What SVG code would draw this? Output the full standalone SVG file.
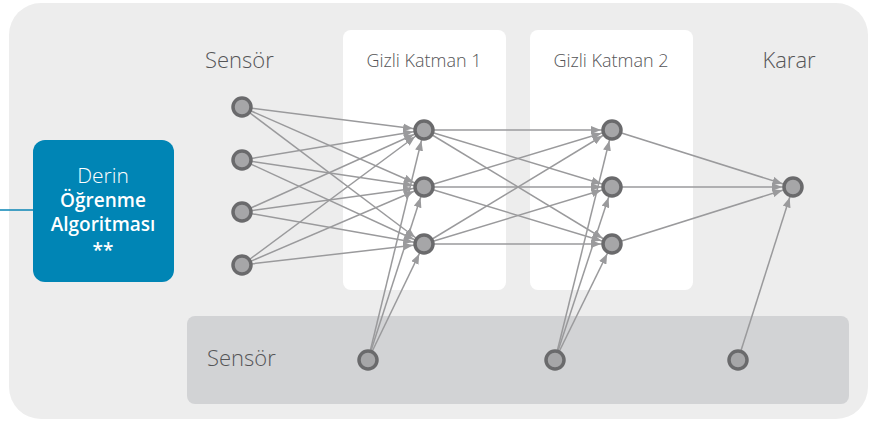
<svg xmlns="http://www.w3.org/2000/svg" width="885" height="423" viewBox="0 0 885 423">
<style>
.lbl{font-family:"Open Sans","Noto Sans",sans-serif;fill:#555557}
.big{font-size:22px;font-weight:300}
.sm{font-size:18px;font-weight:300}
.btxt{font-family:"Open Sans","Noto Sans",sans-serif;fill:#ffffff;text-anchor:middle}
.e{stroke:#9a9a9c;stroke-width:1.5;fill:none;marker-end:url(#ah)}
.n{fill:#a6a6a8;stroke:#6a6a6c;stroke-width:3.5}
</style>
<defs>
<marker id="ah" viewBox="0 0 22 8" markerWidth="22" markerHeight="8" refX="21" refY="4" orient="auto" markerUnits="userSpaceOnUse">
<path d="M0,0 L10,4 L0,8 z" fill="#9a9a9c"/>
</marker>
</defs>
<rect x="0" y="0" width="885" height="423" fill="#ffffff"/>
<rect x="9" y="3" width="859" height="416" rx="32" fill="#ededed"/>
<rect x="343" y="30" width="163" height="260" rx="8" fill="#ffffff"/>
<rect x="530" y="30" width="163" height="260" rx="8" fill="#ffffff"/>
<rect x="187" y="316" width="662" height="88" rx="8" fill="#d2d3d5"/>
<g id="labels">
<text class="lbl big" x="205" y="68">Sensör</text>
<text class="lbl sm" x="424" y="67" text-anchor="middle">Gizli Katman 1</text>
<text class="lbl sm" x="611" y="67" text-anchor="middle">Gizli Katman 2</text>
<text class="lbl big" x="789" y="68" text-anchor="middle">Karar</text>
<text class="lbl big" x="207" y="366">Sensör</text>
</g>
<g id="algo">
<line x1="0" y1="210" x2="34" y2="210" stroke="#0a84b4" stroke-width="1.5"/>
<rect x="33" y="140" width="141" height="142" rx="12" fill="#0085b5"/>
<text class="btxt" x="103" y="183" font-size="21" font-weight="300">Derin</text>
<text class="btxt" x="103" y="207" font-size="19" font-weight="600">Öğrenme</text>
<text class="btxt" x="103" y="231" font-size="19" font-weight="600">Algoritması</text>
<text class="btxt" x="103" y="257" font-size="19" font-weight="600">**</text>
</g>
<g id="connectors">
<line class="e" x1="242" y1="107" x2="424" y2="130"/>
<line class="e" x1="242" y1="107" x2="424" y2="187"/>
<line class="e" x1="242" y1="107" x2="424" y2="244"/>
<line class="e" x1="242" y1="160" x2="424" y2="130"/>
<line class="e" x1="242" y1="160" x2="424" y2="187"/>
<line class="e" x1="242" y1="160" x2="424" y2="244"/>
<line class="e" x1="242" y1="212" x2="424" y2="130"/>
<line class="e" x1="242" y1="212" x2="424" y2="187"/>
<line class="e" x1="242" y1="212" x2="424" y2="244"/>
<line class="e" x1="242" y1="265" x2="424" y2="130"/>
<line class="e" x1="242" y1="265" x2="424" y2="187"/>
<line class="e" x1="242" y1="265" x2="424" y2="244"/>
<line class="e" x1="424" y1="130" x2="612" y2="130"/>
<line class="e" x1="424" y1="130" x2="612" y2="187"/>
<line class="e" x1="424" y1="130" x2="612" y2="244"/>
<line class="e" x1="424" y1="187" x2="612" y2="130"/>
<line class="e" x1="424" y1="187" x2="612" y2="187"/>
<line class="e" x1="424" y1="187" x2="612" y2="244"/>
<line class="e" x1="424" y1="244" x2="612" y2="130"/>
<line class="e" x1="424" y1="244" x2="612" y2="187"/>
<line class="e" x1="424" y1="244" x2="612" y2="244"/>
<line class="e" x1="612" y1="130" x2="793" y2="187"/>
<line class="e" x1="612" y1="187" x2="793" y2="187"/>
<line class="e" x1="612" y1="244" x2="793" y2="187"/>
<line class="e" x1="368" y1="360" x2="424" y2="130"/>
<line class="e" x1="368" y1="360" x2="424" y2="187"/>
<line class="e" x1="368" y1="360" x2="424" y2="244"/>
<line class="e" x1="555" y1="360" x2="612" y2="130"/>
<line class="e" x1="555" y1="360" x2="612" y2="187"/>
<line class="e" x1="555" y1="360" x2="612" y2="244"/>
<line class="e" x1="738" y1="360" x2="793" y2="187"/>
</g>
<g id="sensor-nodes">
<circle id="s1" class="n" cx="242" cy="107" r="9"/>
<circle id="s2" class="n" cx="242" cy="160" r="9"/>
<circle id="s3" class="n" cx="242" cy="212" r="9"/>
<circle id="s4" class="n" cx="242" cy="265" r="9"/>
</g>
<g id="hidden1-nodes">
<circle id="h11" class="n" cx="424" cy="130" r="9"/>
<circle id="h12" class="n" cx="424" cy="187" r="9"/>
<circle id="h13" class="n" cx="424" cy="244" r="9"/>
</g>
<g id="hidden2-nodes">
<circle id="h21" class="n" cx="612" cy="130" r="9"/>
<circle id="h22" class="n" cx="612" cy="187" r="9"/>
<circle id="h23" class="n" cx="612" cy="244" r="9"/>
</g>
<g id="decision-node">
<circle id="k1" class="n" cx="793" cy="187" r="9"/>
</g>
<g id="bottom-nodes">
<circle id="b1" class="n" cx="368" cy="360" r="9"/>
<circle id="b2" class="n" cx="555" cy="360" r="9"/>
<circle id="b3" class="n" cx="738" cy="360" r="9"/>
</g>
</svg>
